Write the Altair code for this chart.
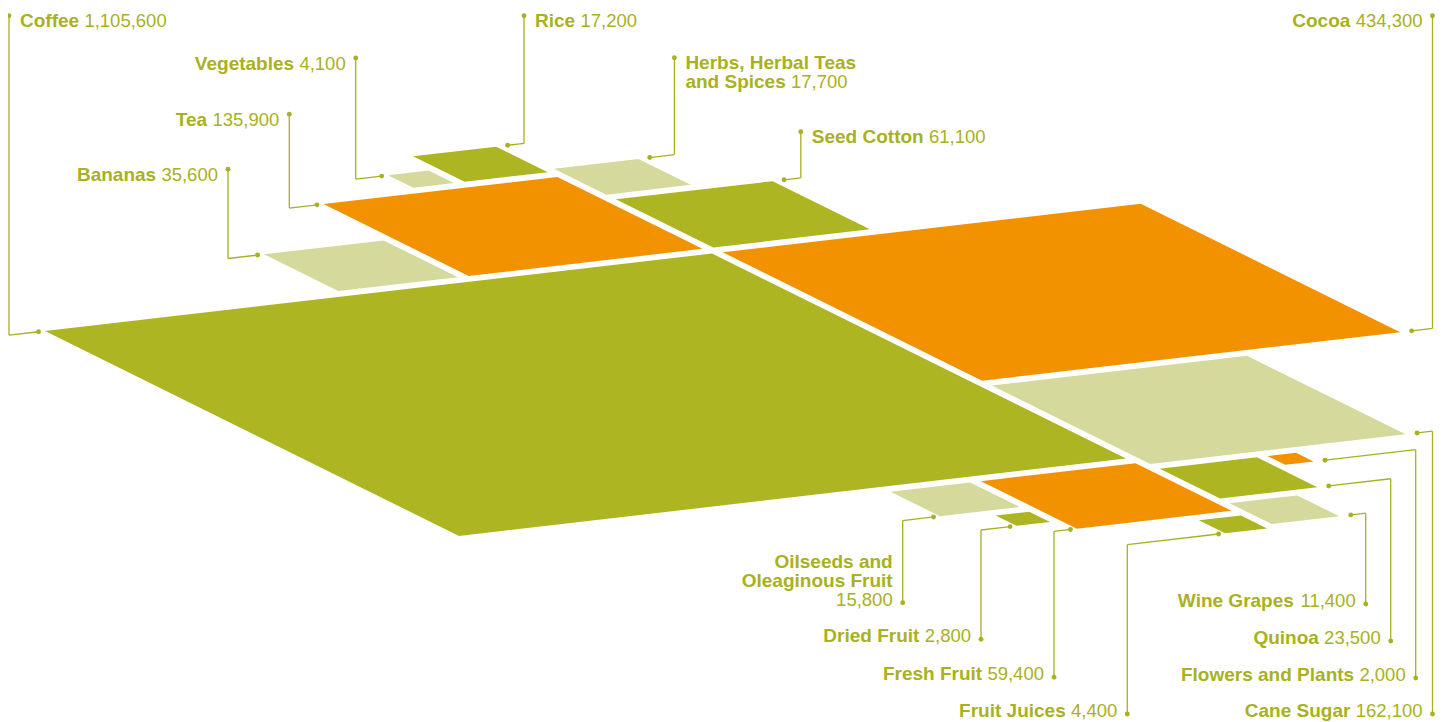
import math
import pandas as pd
import altair as alt

# ---------------- data ----------------
products = ["Coffee", "Cocoa", "Cane Sugar", "Tea", "Seed Cotton", "Fresh Fruit",
            "Bananas", "Quinoa", "Herbs, Herbal Teas and Spices", "Rice",
            "Oilseeds and Oleaginous Fruit", "Wine Grapes", "Fruit Juices",
            "Vegetables", "Dried Fruit", "Flowers and Plants"]
volumes = [1105600, 434300, 162100, 135900, 61100, 59400, 35600, 23500,
           17700, 17200, 15800, 11400, 4400, 4100, 2800, 2000]
tones = ["green", "orange", "light", "orange", "green", "orange", "light", "green",
         "light", "green", "light", "light", "green", "light", "green", "orange"]
label_lines = {
    "Herbs, Herbal Teas and Spices": ["Herbs, Herbal Teas", "and Spices"],
    "Oilseeds and Oleaginous Fruit": ["Oilseeds and", "Oleaginous Fruit", ""],
}

# ---------------- layout (squares sized by sqrt of volume, placed next to a neighbour) ----------------
placement = [
    ("Cocoa", "Coffee", "right", "start"),
    ("Cane Sugar", "Cocoa", "below", "start"),
    ("Tea", "Coffee", "above", "end"),
    ("Bananas", "Tea", "left", "end"),
    ("Seed Cotton", "Cocoa", "above", "start"),
    ("Rice", "Tea", "above", "end"),
    ("Vegetables", "Rice", "left", "end"),
    ("Herbs, Herbal Teas and Spices", "Seed Cotton", "above", "start"),
    ("Fresh Fruit", "Coffee", "below", "end"),
    ("Oilseeds and Oleaginous Fruit", "Fresh Fruit", "left", "start"),
    ("Dried Fruit", "Oilseeds and Oleaginous Fruit", "below", "end"),
    ("Fruit Juices", "Fresh Fruit", "below", "end"),
    ("Quinoa", "Cane Sugar", "below", "start"),
    ("Flowers and Plants", "Quinoa", "right", "start"),
    ("Wine Grapes", "Quinoa", "below", "start"),
]
# leader: anchor corner, x of vertical leader, y of label dot, text side of leader, label stacking
label_layout = {
    "Coffee": ("L", 9, 15.7, "right", "top"),
    "Vegetables": ("L", 355.7, 58, "left", "top"),
    "Tea": ("L", 289.3, 114.3, "left", "top"),
    "Bananas": ("L", 228, 169.3, "left", "top"),
    "Rice": ("T", 524, 15.7, "right", "top"),
    "Herbs, Herbal Teas and Spices": ("T", 674.4, 57.7, "right", "top"),
    "Seed Cotton": ("T", 800.8, 131.7, "right", "top"),
    "Cocoa": ("R", 1432.5, 15.7, "left", "top"),
    "Cane Sugar": ("R", 1432.5, 714, "left", "bottom"),
    "Flowers and Plants": ("R", 1415.7, 678, "left", "bottom"),
    "Quinoa": ("R", 1390.7, 641, "left", "bottom"),
    "Wine Grapes": ("R", 1365.7, 604, "left", "bottom"),
    "Oilseeds and Oleaginous Fruit": ("B", 902.7, 602.7, "left", "bottom"),
    "Dried Fruit": ("B", 981, 639.3, "left", "bottom"),
    "Fresh Fruit": ("B", 1054, 677.3, "left", "bottom"),
    "Fruit Juices": ("B", 1127.3, 714, "left", "bottom"),
}

# oblique projection of the (u, v) plane onto the page
ORIGIN = (45.0, 331.0)
U_AXIS = (667.0, -77.5)
V_AXIS = (414.0, 205.0)
GAP_U, GAP_V = 0.016, 0.023

TONE_COLORS = {"green": "#adb522", "orange": "#f39200", "light": "#d6d99c"}
INK = "#a8b120"
FONT = "Liberation Sans"
FS_NAME, FS_NUM = 19, 18.5

BOLD_W = dict(zip("ABCDEFGHIJKLMNOPQRSTUVWXYZ",
                  [722, 722, 722, 722, 667, 611, 778, 722, 278, 556, 722, 611, 833,
                   722, 778, 667, 778, 722, 667, 611, 722, 667, 944, 667, 667, 611]))
BOLD_W.update(zip("abcdefghijklmnopqrstuvwxyz",
                  [556, 611, 556, 611, 556, 333, 611, 611, 278, 278, 556, 278, 889,
                   611, 611, 611, 611, 389, 556, 333, 611, 556, 778, 556, 556, 500]))
BOLD_W.update({" ": 278, ",": 278})


def bold_width(s):
    return sum(BOLD_W.get(c, 556) for c in s) * FS_NAME / 1000


def num_width(s):
    return sum(278 if c in ", " else 556 for c in s) * FS_NUM / 1000


def proj(u, v):
    return (ORIGIN[0] + u * U_AXIS[0] + v * V_AXIS[0],
            ORIGIN[1] + u * U_AXIS[1] + v * V_AXIS[1])


vol = dict(zip(products, volumes))
tone = dict(zip(products, tones))
side = {p: math.sqrt(vol[p] / vol["Coffee"]) for p in products}

rects = {"Coffee": (0.0, side["Coffee"], 0.0, side["Coffee"])}
for name, ref, where, align in placement:
    s = side[name]
    ru0, ru1, rv0, rv1 = rects[ref]
    if where in ("right", "left"):
        if where == "right":
            u0 = ru1 + GAP_U
        else:
            u0 = ru0 - GAP_U - s
        v0 = rv0 if align == "start" else rv1 - s
    else:
        if where == "below":
            v0 = rv1 + GAP_V
        else:
            v0 = rv0 - GAP_V - s
        u0 = ru0 if align == "start" else ru1 - s
    rects[name] = (u0, u0 + s, v0, v0 + s)

features = []
for p in products:
    u0, u1, v0, v1 = rects[p]
    ring = [proj(u0, v0), proj(u1, v0), proj(u1, v1), proj(u0, v1), proj(u0, v0)]
    features.append({"type": "Feature",
                     "geometry": {"type": "Polygon", "coordinates": [[list(c) for c in ring]]},
                     "properties": {"name": p, "color": TONE_COLORS[tone[p]]}})

ulen = math.hypot(*U_AXIS)
segs, dots, texts = [], [], []
for p in products:
    corner, lx, dy_, tside, stack = label_layout[p]
    u0, u1, v0, v1 = rects[p]
    cu, cv = {"L": (u0, v0), "T": (u1, v0), "R": (u1, v1), "B": (u0, v1)}[corner]
    cx, cy = proj(cu, cv)
    direction = -1 if corner in ("L", "B") else 1
    off = 6.5 if direction < 0 else 11.5
    dx0 = cx + direction * off * U_AXIS[0] / ulen
    dy0 = cy + direction * off * U_AXIS[1] / ulen
    t = (lx - dx0) / U_AXIS[0]
    ex, ey = dx0 + t * U_AXIS[0], dy0 + t * U_AXIS[1]
    segs.append({"x": dx0, "y": dy0, "x2": ex, "y2": ey})
    segs.append({"x": ex, "y": ey, "x2": lx, "y2": dy_})
    dots.append({"x": dx0, "y": dy0})
    dots.append({"x": lx, "y": dy_})

    lines = label_lines.get(p, [p])
    num = f"{vol[p]:,}"
    n = len(lines)
    for i, line in enumerate(lines):
        if stack == "top":
            by = dy_ + 11.5 + i * 19
        else:
            by = dy_ + 3 - (n - 1 - i) * 19
        last = i == n - 1
        if tside == "right":
            x = lx + 11
            if line:
                texts.append({"x": x, "y": by, "text": line, "kind": "name_left"})
            if last:
                nx = x + (bold_width(line + " ") if line else 0)
                texts.append({"x": nx, "y": by, "text": num, "kind": "num_left"})
        else:
            x = lx - 10
            if last:
                texts.append({"x": x, "y": by, "text": num, "kind": "num_right"})
                if line:
                    texts.append({"x": x - num_width(num) - 0.278 * FS_NAME, "y": by,
                                  "text": line, "kind": "name_right"})
            elif line:
                texts.append({"x": x, "y": by, "text": line, "kind": "name_right"})

seg_df = pd.DataFrame(segs)
dot_df = pd.DataFrame(dots)
text_df = pd.DataFrame(texts)

PROJ = dict(type="identity", scale=1, translate=[-8, -8])

shapes = alt.Chart(alt.Data(values=features)).mark_geoshape().encode(
    color=alt.Color("properties.color:N", scale=None)
).project(**PROJ)

leaders = alt.Chart(seg_df).mark_rule(color=INK, strokeWidth=1.3).encode(
    longitude="x:Q", latitude="y:Q", longitude2="x2:Q", latitude2="y2:Q"
).project(**PROJ)

points = alt.Chart(dot_df).mark_circle(color=INK, size=24, opacity=1).encode(
    longitude="x:Q", latitude="y:Q"
).project(**PROJ)

text_layers = []
for kind, align, weight, fs in [("name_left", "left", "bold", FS_NAME),
                                ("num_left", "left", "normal", FS_NUM),
                                ("name_right", "right", "bold", FS_NAME),
                                ("num_right", "right", "normal", FS_NUM)]:
    sub = text_df[text_df["kind"] == kind]
    if len(sub) == 0:
        continue
    text_layers.append(
        alt.Chart(sub).mark_text(align=align, baseline="alphabetic", font=FONT,
                                 fontSize=fs, fontWeight=weight, color=INK).encode(
            longitude="x:Q", latitude="y:Q", text="text:N"
        ).project(**PROJ)
    )

chart = alt.layer(shapes, leaders, points, *text_layers).properties(
    width=1427, height=714, padding=0, autosize="none"
).configure_view(stroke=None)

chart.save("out.html", embed_options={"renderer": "svg", "actions": False})
